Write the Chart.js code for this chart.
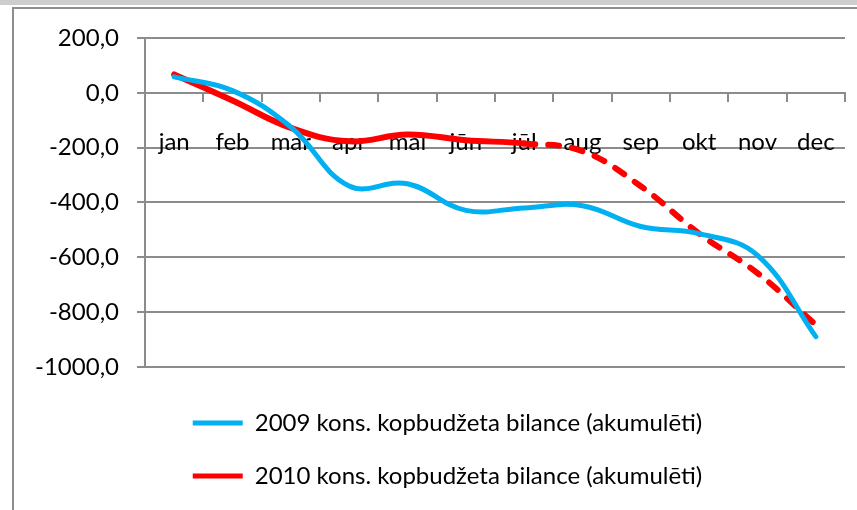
<!DOCTYPE html>
<html>
<head>
<meta charset="utf-8">
<script src="https://cdn.jsdelivr.net/npm/chart.js@4/dist/chart.umd.min.js"></script>
<style>
  html, body { margin: 0; padding: 0; background: #ffffff; }
  #wrap { position: relative; width: 857px; height: 510px; overflow: hidden; background: #fff; }
  #band { position: absolute; left: 0; top: 0; width: 857px; height: 5px; background: #cdcdcd; }
  #frame { position: absolute; left: 12px; top: 7px; width: 850px; height: 520px;
           border-left: 2px solid #8e8e8e; border-top: 2px solid #8e8e8e; }
  canvas { position: absolute; left: 0; top: 0; }
</style>
</head>
<body>
<div id="wrap">
  <div id="band"></div>
  <div id="frame"></div>
  <canvas id="c" width="857" height="510"></canvas>
</div>
<script>
const months = ['jan', 'feb', 'mar', 'apr', 'mai', 'jūn', 'jūl', 'aug', 'sep', 'okt', 'nov', 'dec'];
const series2009 = [58, 8, -125, -340, -332, -429, -420, -412, -488, -514, -593, -890];
const series2010 = [67, -28, -128, -177, -152, -173, -185, -213, -341, -514, -658, -847];
const label2009 = '2009 kons. kopbudžeta bilance (akumulēti)';
const label2010 = '2010 kons. kopbudžeta bilance (akumulēti)';
const yMin = -1000, yMax = 200, yStep = 200;
const solidUntil2010 = 6; // segments after jūl are dashed

const FONT = 'Lato';
const FSIZE = 24;
const GRID = '#8c8c8c';
const PAD_LEFT = 28;
const LEGEND_SHIFT = 11;

const legendNudge = {
  id: 'legendNudge',
  afterLayout(chart) {
    if (chart.legend) {
      chart.legend.left += LEGEND_SHIFT;
      chart.legend.right += LEGEND_SHIFT;
    }
  }
};

new Chart(document.getElementById('c'), {
  type: 'line',
  data: {
    labels: months,
    datasets: [
      {
        label: label2009,
        data: series2009,
        borderColor: '#00b0f0',
        backgroundColor: '#00b0f0',
        borderWidth: 5,
        pointRadius: 0,
        tension: 0.4,
        borderCapStyle: 'round',
        fill: false
      },
      {
        label: label2010,
        data: series2010,
        borderColor: '#ff0000',
        backgroundColor: '#ff0000',
        borderWidth: 6,
        pointRadius: 0,
        tension: 0.4,
        borderCapStyle: 'round',
        fill: false,
        segment: {
          borderDash: ctx => ctx.p0DataIndex >= solidUntil2010 ? [11, 13] : undefined
        }
      }
    ]
  },
  plugins: [legendNudge],
  options: {
    responsive: false,
    animation: false,
    devicePixelRatio: 1,
    layout: { padding: { left: PAD_LEFT, right: 12, top: 38, bottom: 12 } },
    scales: {
      x: {
        type: 'category',
        position: { y: 0 },
        offset: true,
        afterFit: s => { s.paddingLeft = 0; s.paddingRight = 0; },
        grid: { display: true, offset: true, drawOnChartArea: false, drawTicks: true, tickLength: 8, color: GRID, lineWidth: 2 },
        border: { display: true, color: GRID, width: 2 },
        ticks: { color: '#000', font: { family: FONT, size: FSIZE }, padding: 27, maxRotation: 0, autoSkip: false }
      },
      y: {
        min: yMin,
        max: yMax,
        afterFit: s => { s.width = 145 - PAD_LEFT; },
        grid: { color: GRID, lineWidth: 2, tickLength: 8, drawTicks: true },
        border: { display: true, color: GRID, width: 2 },
        ticks: {
          stepSize: yStep,
          color: '#000',
          font: { family: FONT, size: FSIZE },
          padding: 18,
          callback: v => v.toFixed(1).replace('.', ',')
        }
      }
    },
    plugins: {
      tooltip: { enabled: false },
      legend: {
        display: true,
        position: 'bottom',
        title: { display: true, text: '', font: { size: 1 }, padding: { top: 14, bottom: 0 } },
        labels: {
          color: '#000',
          font: { family: FONT, size: FSIZE },
          boxWidth: 50,
          boxHeight: 5,
          padding: 29,
          generateLabels: chart => chart.data.datasets.map((d, i) => ({
            text: d.label,
            fillStyle: d.borderColor,
            strokeStyle: d.borderColor,
            lineWidth: 0,
            hidden: false,
            datasetIndex: i,
            fontColor: '#000'
          }))
        }
      }
    }
  }
});
</script>
</body>
</html>
